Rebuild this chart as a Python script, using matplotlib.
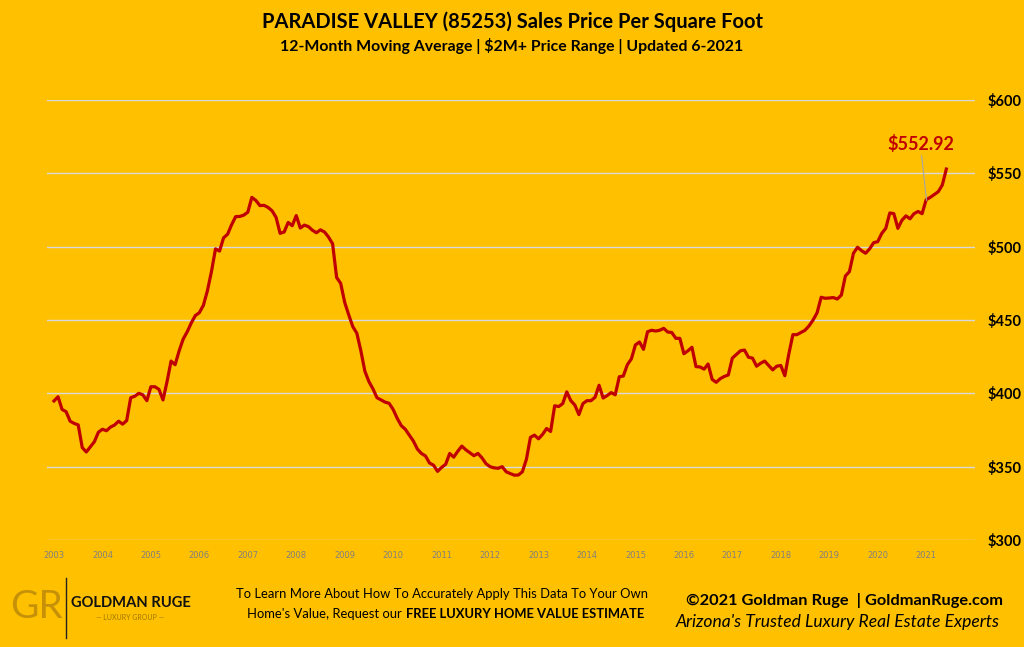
import matplotlib
matplotlib.use("Agg")
import matplotlib.pyplot as plt
import numpy as np

# Monthly 12-month moving average, Jan 2003 .. Jun 2021
price_per_sqft = [
    394.8, 397.7, 389.0, 387.5, 381.0, 379.5, 378.5, 363.0, 360.0, 363.5, 367.0, 373.5,
    375.5, 374.5, 377.0, 378.4, 381.0, 379.0, 381.4, 397.0, 398.0, 400.0, 399.0, 395.0,
    404.5, 404.5, 402.7, 395.5, 408.0, 422.0, 419.5, 429.0, 437.0, 442.0, 448.0, 453.0,
    455.0, 460.0, 470.0, 483.0, 498.5, 497.0, 506.0, 508.5, 515.0, 520.5, 520.6, 521.5,
    523.5, 533.6, 531.5, 528.0, 528.2, 526.8, 524.5, 520.0, 509.1, 510.0, 516.5, 514.3,
    521.2, 512.7, 514.7, 513.7, 511.2, 509.5, 511.5, 510.0, 506.5, 502.0, 479.0, 475.0,
    462.0, 453.5, 445.5, 441.0, 429.0, 415.0, 408.0, 403.0, 397.0, 395.5, 394.0, 393.2,
    389.0, 383.0, 378.0, 375.5, 371.5, 367.5, 362.0, 359.0, 357.3, 352.5, 351.0, 346.8,
    349.5, 351.6, 359.0, 356.5, 360.5, 364.0, 361.5, 359.5, 357.5, 359.0, 356.0, 352.0,
    350.0, 349.2, 348.9, 350.0, 346.5, 345.3, 344.2, 344.3, 346.5, 355.0, 370.0, 371.5,
    369.0, 372.0, 376.0, 374.0, 391.5, 391.0, 393.0, 401.0, 395.0, 392.0, 385.5, 393.0,
    395.0, 395.0, 397.3, 405.5, 396.8, 398.5, 400.5, 399.0, 411.3, 411.8, 419.5, 423.5,
    433.0, 435.0, 430.0, 442.0, 443.0, 442.5, 443.0, 444.3, 441.8, 441.5, 437.5, 437.5,
    427.0, 429.0, 431.4, 418.2, 418.0, 416.5, 420.0, 409.5, 407.5, 410.0, 411.5, 412.5,
    424.0, 426.5, 429.0, 429.5, 424.6, 424.0, 418.5, 420.5, 422.0, 419.0, 416.0, 418.5,
    419.0, 412.0, 427.0, 440.0, 440.0, 441.5, 443.0, 446.0, 450.0, 455.0, 465.5, 464.8,
    465.0, 465.3, 464.3, 467.0, 480.0, 483.0, 495.5, 499.6, 497.3, 495.5, 498.5, 502.7,
    503.4, 509.0, 512.5, 523.0, 522.5, 512.5, 518.0, 521.0, 519.0, 522.5, 524.0, 522.5,
    532.0, 533.6, 535.5, 537.5, 542.0, 552.92,
]
start_year = 2003
year_labels = [str(y) for y in range(2003, 2022)]
y_ticks = [300, 350, 400, 450, 500, 550, 600]
last_label = "$552.92"

BG = "#FFC000"
RED = "#C00000"

fig = plt.figure(figsize=(10.24, 6.47), dpi=100, facecolor=BG)
ax = fig.add_axes([47/1024, 1-540/647, (975-47)/1024, 440/647], facecolor=BG)

months = np.arange(len(price_per_sqft))
ax.plot(months, price_per_sqft, color=RED, lw=2.3, solid_joinstyle="round", zorder=3)

ax.set_ylim(300, 600)
ax.set_xlim(-1.73, 228.1)
ax.set_yticks(y_ticks)
ax.set_yticklabels([f"${v}" for v in y_ticks])
ax.yaxis.tick_right()
ax.tick_params(axis="y", length=0, pad=9, labelsize=10.5, labelcolor="#000000")
for t in ax.get_yticklabels():
    t.set_fontfamily("Lato")
    t.set_fontweight("bold")

xt = [12 * k for k in range(len(year_labels))]
ax.set_xticks(xt)
ax.set_xticklabels(year_labels)
ax.tick_params(axis="x", length=0, pad=8, labelsize=6, labelcolor="#808080")

ax.grid(axis="y", color="#D9D9D9", lw=1.0, zorder=1)
ax.grid(axis="x", visible=False)
for s in ax.spines.values():
    s.set_visible(False)

# annotation for last value
lx = len(price_per_sqft) - 1
ax.annotate(last_label, xy=(lx - 4.9, price_per_sqft[lx - 5] - 0.5),
            xytext=(lx - 6.2, 564), color=RED, fontsize=13, fontweight="bold",
            family="Lato", ha="center", va="bottom",
            arrowprops=dict(arrowstyle="-", color="#A6A6A6", lw=0.8,
                            shrinkA=0, shrinkB=0, relpos=(0.5, 0)))

# Titles
fig.text(0.5, 1-22/647, "PARADISE VALLEY (85253) Sales Price Per Square Foot",
         ha="center", va="center", fontsize=14.5, fontweight="bold", family="Lato", color="#000000")
fig.text(0.5, 1-46/647, "12-Month Moving Average | $2M+ Price Range | Updated 6-2021",
         ha="center", va="center", fontsize=11.4, fontweight="bold", family="Lato", color="#000000")

# Footer: logo
fig.text(36/1024, 1-607/647, "GR", ha="center", va="center", fontsize=28,
         family="Lato", color="#B8860B", alpha=0.8)
fig.add_artist(plt.Line2D([66/1024, 66/1024], [1-578/647, 1-638/647], color="#222222", lw=1.0))
fig.text(71/1024, 1-603/647, "GOLDMAN RUGE", ha="left", va="center", fontsize=10.6,
         fontweight="bold", family="Lato", color="#111111")
fig.text(130/1024, 1-617/647, "— LUXURY GROUP —", ha="center", va="center", fontsize=5,
         family="Lato", color="#A07800")

# Footer: middle
fig.text(442/1024, 1-594/647, "To Learn More About How To Accurately Apply This Data To Your Own",
         ha="center", va="center", fontsize=9.4, family="Lato", color="#000000")
t1 = fig.text(247/1024, 1-614/647, "Home's Value, Request our", ha="left", va="center",
              fontsize=9.4, family="Lato", color="#000000")
fig.canvas.draw()
bb = t1.get_window_extent(renderer=fig.canvas.get_renderer())
fig.text(bb.x1/1024 + 4/1024, 1-614/647, "FREE LUXURY HOME VALUE ESTIMATE", ha="left", va="center",
         fontsize=9.4, fontweight="bold", family="Lato", color="#000000")

# Footer: right
fig.text(844/1024, 1-601/647, "©2021 Goldman Ruge  | GoldmanRuge.com", ha="center", va="center",
         fontsize=11.8, fontweight="bold", family="Lato", color="#000000")
fig.text(838/1024, 1-622/647, "Arizona's Trusted Luxury Real Estate Experts", ha="center", va="center",
         fontsize=12.6, style="italic", family="Lato", color="#000000")

fig.savefig("out.png", dpi=100, facecolor=BG)
